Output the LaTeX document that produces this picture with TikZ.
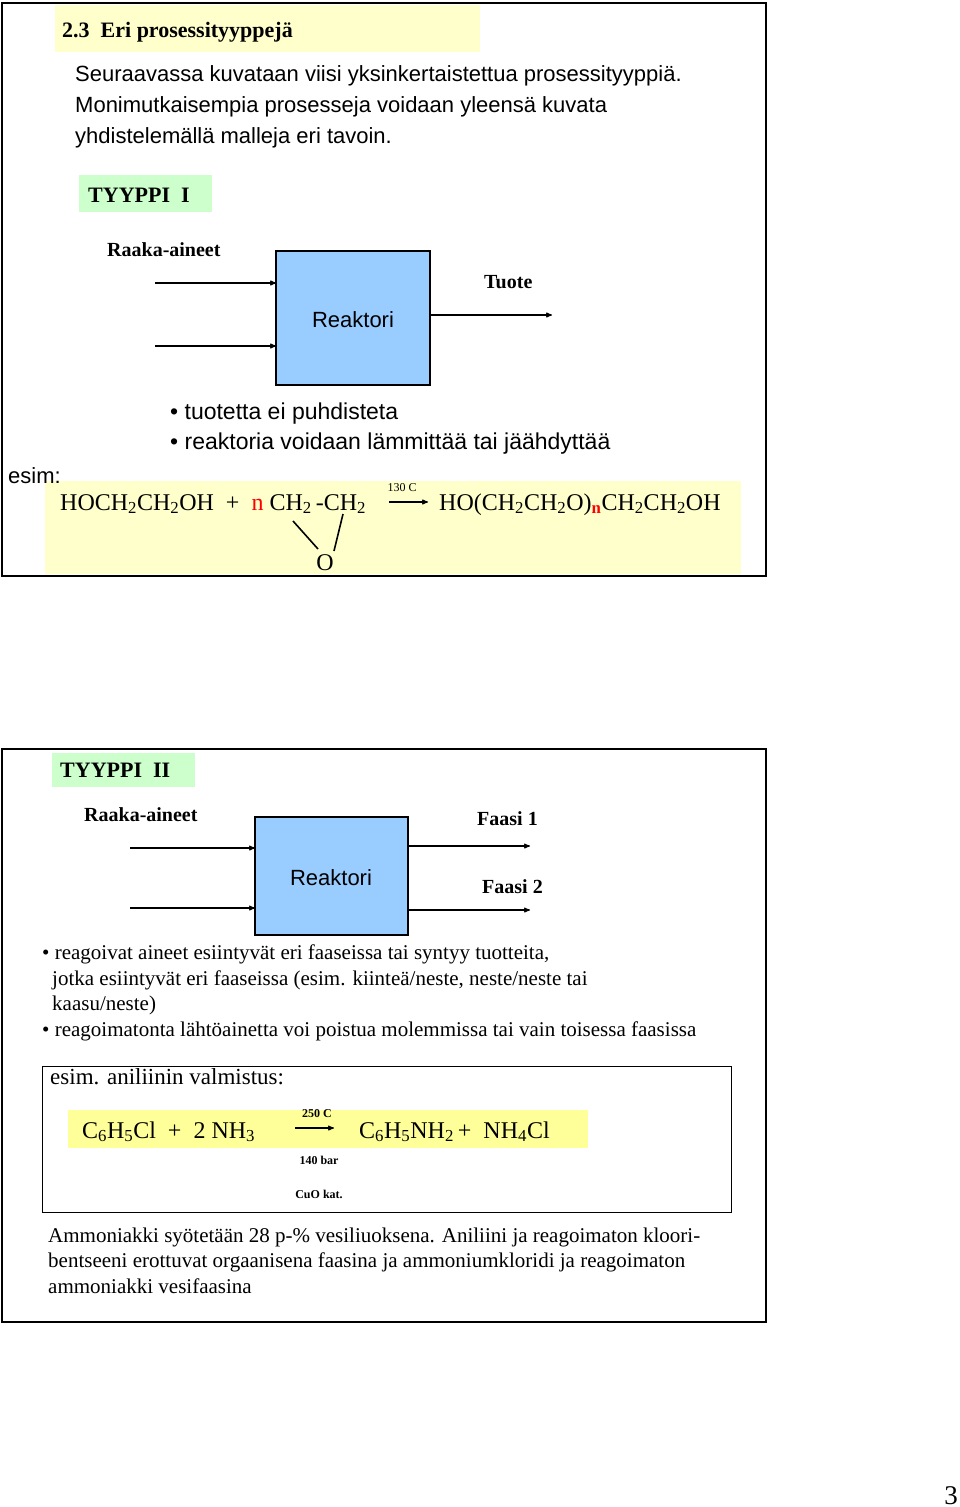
\documentclass[tikz,border=0pt]{standalone}
\usepackage{fontspec}
\setmainfont{Liberation Serif}
\newfontfamily\arial{Liberation Sans}
\usetikzlibrary{arrows,positioning}
\definecolor{paleyel}{HTML}{FFFFCC}
\definecolor{brightyel}{HTML}{FFFF99}
\definecolor{palegreen}{HTML}{CCFFCC}
\definecolor{reakblue}{HTML}{99CCFF}
\tikzset{
    %Define standard arrow tip
    >=stealth',
    %Define style for frames
    frame/.style={draw=black, line width=2pt},
    reactor/.style={draw=black, line width=1.6pt, fill=reakblue},
    % Define text styles
    sans/.style={font=\arial\fontsize{22}{26}\selectfont, inner sep=0pt, anchor=base west},
    serif/.style={font=\fontsize{22}{26}\selectfont, inner sep=0pt, anchor=base west},
    chem/.style={font=\fontsize{24}{28}\selectfont, inner sep=0pt, anchor=base west},
    small/.style={font=\fontsize{21}{25}\selectfont, inner sep=0pt, anchor=base west},
    label/.style={font=\bfseries\fontsize{20}{24}\selectfont, inner sep=0pt, anchor=base west},
    tiny/.style={font=\bfseries\fontsize{12}{14}\selectfont, inner sep=0pt},
    % Define arrow style
    pil/.style={->, line width=1.1pt},
}
\begin{document}
\begin{tikzpicture}[x=1pt,y=-1pt]
\useasboundingbox (0,0) rectangle (960,1507);
%frame I
\draw[frame] (2,3) rectangle (766,576);
\fill[paleyel] (55,5) rectangle (480,52);
\node[serif, font=\bfseries\fontsize{22}{26}\selectfont] (title) at (62,37) {2.3\ \ Eri prosessityyppejä};
\node[sans] (p1) at (75,81) {Seuraavassa kuvataan viisi yksinkertaistettua prosessityyppiä.};
\node[sans] (p2) at (75,112) {Monimutkaisempia prosesseja voidaan yleensä kuvata};
\node[sans] (p3) at (75,143) {yhdistelemällä malleja eri tavoin.};
\fill[palegreen] (79,175) rectangle (212,212);
\node[serif, font=\bfseries\fontsize{22}{26}\selectfont] (t1) at (88,202) {TYYPPI\ \ I};
\node[label] (raaka1) at (107,256) {Raaka-aineet};
\draw[reactor] (276,251) rectangle (430,385);
\node[sans, anchor=center] (reak1) at (353,320) {Reaktori};
\coordinate (in1a) at (155,283); \coordinate (in1b) at (155,346);
\coordinate (out1) at (552,315);
\draw[pil] (in1a) -- (276,283);
\draw[pil] (in1b) -- (276,346);
\draw[pil] (430,315) -- (out1);
\node[label] (tuote) at (484,288) {Tuote};
\node[sans, font=\arial\fontsize{23}{27}\selectfont] (b1) at (170,419) {•\ tuotetta ei puhdisteta};
\node[sans, font=\arial\fontsize{23}{27}\selectfont] (b2) at (170,449) {•\ reaktoria voidaan lämmittää tai jäähdyttää};
%equation I
\fill[paleyel] (45,481) rectangle (741,574);
\node[sans] (esim1) at (8,483) {esim:};
\node[chem] (eqA) at (60,510) {HOCH\textsubscript{2}CH\textsubscript{2}OH\ \ +\ \ \textcolor{red}{n} CH\textsubscript{2}\,-CH\textsubscript{2}};
\coordinate (arA) at (389,502); \coordinate (arB) at (428,502);
\draw[pil] (arA) -- (arB);
\node[font=\fontsize{12}{14}\selectfont, inner sep=0pt] (temp1) at (402,488) {130 C};
\node[chem] (eqB) at (439,510) {HO(CH\textsubscript{2}CH\textsubscript{2}O)\textsubscript{\bfseries\color{red}n}CH\textsubscript{2}CH\textsubscript{2}OH};
\node[chem, anchor=center] (oxy) at (325,563) {O};
\draw[line width=1.6pt] (293,521) -- (318,549);
\draw[line width=1.6pt] (343,514) -- (334,551);
%frame II
\draw[frame] (2,749) rectangle (766,1322);
\fill[palegreen] (52,753) rectangle (195,787);
\node[serif, font=\bfseries\fontsize{22}{26}\selectfont] (t2) at (60,777) {TYYPPI\ \ II};
\node[label] (raaka2) at (84,821) {Raaka-aineet};
\draw[reactor] (255,817) rectangle (408,935);
\node[sans, anchor=center] (reak2) at (331,878) {Reaktori};
\coordinate (in2a) at (130,848); \coordinate (in2b) at (130,908);
\coordinate (out2a) at (530,846); \coordinate (out2b) at (530,910);
\draw[pil] (in2a) -- (255,848);
\draw[pil] (in2b) -- (255,908);
\draw[pil] (408,846) -- (out2a);
\draw[pil] (408,910) -- (out2b);
\node[label] (faasi1) at (477,825) {Faasi 1};
\node[label] (faasi2) at (482,893) {Faasi 2};
\node[small] (c1) at (42,959) {•\ reagoivat aineet esiintyvät eri faaseissa tai syntyy tuotteita,};
\node[small] (c2) at (52,985) {jotka esiintyvät eri faaseissa (esim. kiinteä/neste, neste/neste tai};
\node[small] (c3) at (52,1010) {kaasu/neste)};
\node[small] (c4) at (42,1036) {•\ reagoimatonta lähtöainetta voi poistua molemmissa tai vain toisessa faasissa};
%example box
\draw[line width=0.8pt] (42,1066) rectangle (731,1212);
\node[serif, font=\fontsize{23}{27}\selectfont] (esim2) at (50,1084) {esim. aniliinin valmistus:};
\fill[brightyel] (68,1110) rectangle (588,1148);
\node[chem] (eqC) at (82,1138) {C\textsubscript{6}H\textsubscript{5}Cl\ \ +\ \ 2 NH\textsubscript{3}};
\coordinate (arC) at (295,1128); \coordinate (arD) at (334,1128);
\draw[pil] (arC) -- (arD);
\node[chem] (eqD) at (359,1138) {C\textsubscript{6}H\textsubscript{5}NH\textsubscript{2}\,+\ \ NH\textsubscript{4}Cl};
\node[tiny] (t250) at (317,1114) {250 C};
\node[tiny] (p140) at (319,1160) {140 bar};
\node[tiny] (cuo) at (319,1194) {CuO kat.};
\node[small] (d1) at (48,1242) {Ammoniakki syötetään 28 p-\% vesiliuoksena. Aniliini ja reagoimaton kloori-};
\node[small] (d2) at (48,1267) {bentseeni erottuvat orgaanisena faasina ja ammoniumkloridi ja reagoimaton};
\node[small] (d3) at (48,1293) {ammoniakki vesifaasina};
\node[serif, font=\fontsize{27}{30}\selectfont, anchor=base east] (page) at (958,1504) {3};
\end{tikzpicture}
\end{document}
